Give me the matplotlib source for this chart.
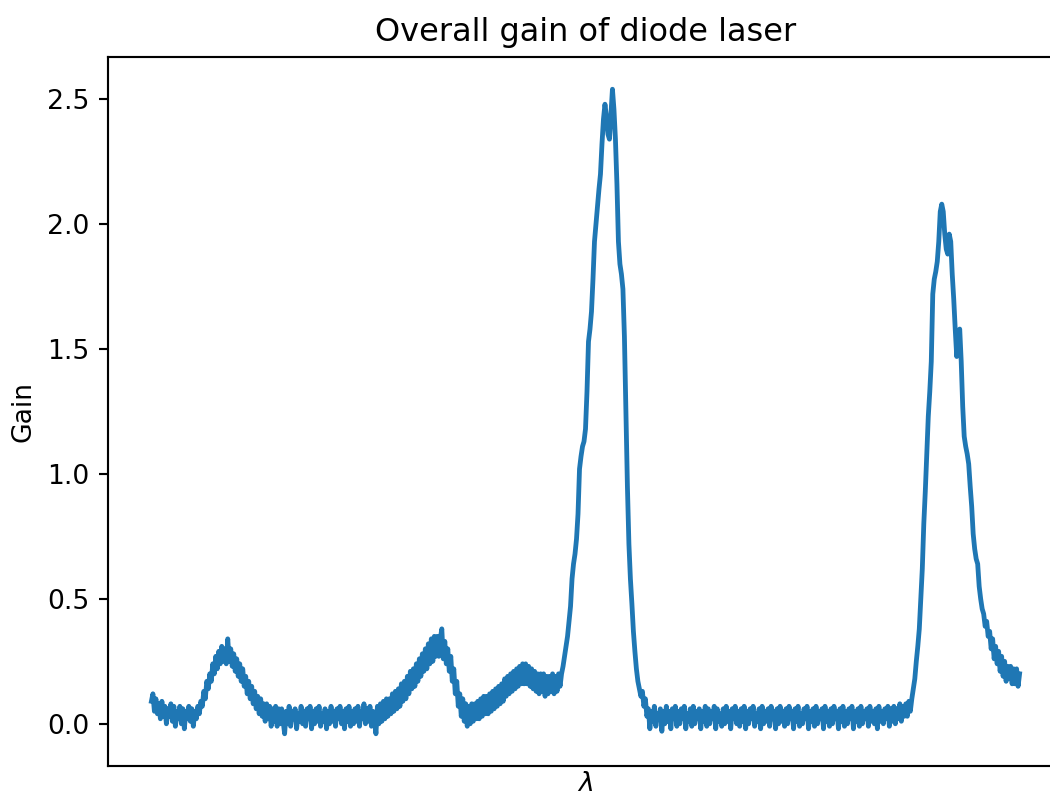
import numpy as np
import matplotlib
matplotlib.use("Agg")
import matplotlib.pyplot as plt

# measured gain, one sample per wavelength step, split by spectral region
gain_edge = [
    0.09, 0.12, 0.05, 0.10, 0.04, 0.08, 0.02, 0.09, 0.03, 0.07, 0.00, 0.06, 0.03, 0.08, 0.01, 0.07,
    -0.01, 0.05, 0.02, 0.07, 0.00, 0.06, -0.02, 0.05, 0.02, 0.07, 0.01, 0.06, -0.01, 0.05, 0.02, 0.07,
]

gain_bump1 = [
    0.04, 0.09, 0.07, 0.13, 0.10, 0.17, 0.14, 0.20, 0.17, 0.24, 0.20, 0.27, 0.22, 0.29, 0.24, 0.31,
    0.25, 0.30, 0.24, 0.34, 0.25, 0.30, 0.23, 0.28, 0.21, 0.26, 0.19, 0.24, 0.17, 0.22, 0.15, 0.19,
    0.12, 0.17, 0.10, 0.15, 0.08, 0.13, 0.06, 0.11, 0.04, 0.10, 0.03, 0.08, 0.01, 0.08, 0.02, 0.07,
    -0.01, 0.06, 0.01, 0.07, -0.01, 0.06, 0.00,
]

gain_flat1 = [
    0.06, 0.01, -0.04, 0.05, 0.00, 0.07, -0.01, 0.05, 0.02, 0.06, -0.02, 0.04, 0.01, 0.07, 0.00, 0.05,
    -0.01, 0.06, 0.02, 0.07, -0.02, 0.05, 0.00, 0.06, 0.01, 0.07, -0.01, 0.04, 0.01, 0.06, -0.02, 0.05,
    0.00, 0.07, 0.01, 0.05, -0.01, 0.06, 0.02, 0.07, 0.00, 0.05, -0.02, 0.06, 0.01, 0.07, -0.01, 0.05,
    0.00, 0.06, 0.01, 0.07, -0.01, 0.05, 0.02, 0.08, 0.00, 0.06, 0.01, 0.07, -0.01, 0.05, 0.02, -0.04,
]

gain_bump2 = [
    0.07, 0.00, 0.08, 0.01, 0.09, 0.02, 0.10, 0.03, 0.10, 0.04, 0.12, 0.05, 0.13, 0.06, 0.14, 0.07,
    0.16, 0.09, 0.17, 0.10, 0.19, 0.12, 0.21, 0.14, 0.22, 0.15, 0.24, 0.17, 0.26, 0.19, 0.28, 0.21,
    0.30, 0.22, 0.32, 0.24, 0.34, 0.25, 0.35, 0.27, 0.35, 0.27, 0.34, 0.38, 0.26, 0.33, 0.24, 0.30,
    0.21, 0.27, 0.17, 0.22, 0.12, 0.17, 0.07, 0.12, 0.03, 0.10, 0.01, 0.08, -0.01, 0.07, 0.00, 0.08,
    0.01, 0.08, 0.02, 0.09, 0.02,
]

gain_bump3 = [
    0.10, 0.03, 0.11, 0.04, 0.11, 0.04, 0.12, 0.05, 0.13, 0.06, 0.14, 0.07, 0.15, 0.08, 0.16, 0.09,
    0.18, 0.11, 0.19, 0.12, 0.20, 0.13, 0.21, 0.14, 0.22, 0.15, 0.23, 0.16, 0.24, 0.16, 0.24, 0.16,
    0.23, 0.15, 0.22, 0.14, 0.21, 0.13, 0.20, 0.12, 0.20, 0.13, 0.20, 0.11, 0.19, 0.12, 0.19, 0.13,
    0.20, 0.12, 0.19, 0.13, 0.20, 0.15,
]

gain_peak1 = [
    0.20, 0.23, 0.27, 0.31, 0.35, 0.41, 0.47, 0.58, 0.64, 0.68, 0.74, 0.84, 1.02, 1.07, 1.11, 1.13,
    1.18, 1.33, 1.53, 1.58, 1.65, 1.78, 1.93, 2.00, 2.07, 2.14, 2.20, 2.32, 2.42, 2.48, 2.43, 2.36,
    2.34, 2.44, 2.54, 2.46, 2.34, 2.16, 1.93, 1.84, 1.80, 1.74, 1.55, 1.25, 0.95, 0.72, 0.58, 0.48,
    0.37, 0.29, 0.22, 0.17, 0.14, 0.11, 0.13, 0.07, 0.10, 0.03, 0.06,
]

gain_flat2 = [
    -0.02, 0.05, 0.01, 0.07, -0.01, 0.04, 0.02, 0.06, -0.03, 0.05, 0.00, 0.07, 0.01, 0.05, -0.02, 0.06, 0.02, 0.07,
    -0.01, 0.05, 0.00, 0.06, 0.02, 0.07, -0.02, 0.04, 0.01, 0.06, -0.01, 0.07, 0.00, 0.05, 0.02, 0.06, -0.02, 0.05,
    0.01, 0.07, -0.01, 0.06, 0.00, 0.05, 0.02, 0.07, -0.02, 0.06, 0.01, 0.04, -0.01, 0.06, 0.00, 0.07, 0.01, 0.05,
    -0.02, 0.06, 0.02, 0.07, 0.00, 0.05, -0.01, 0.06, 0.01, 0.07, -0.02, 0.05, 0.00, 0.06, 0.02, 0.07, -0.01, 0.04,
    0.01, 0.06, -0.02, 0.07, 0.00, 0.05, 0.01, 0.06, -0.01, 0.07, 0.02, 0.05, -0.02, 0.06, 0.00, 0.07, 0.01, 0.05,
    -0.01, 0.06, 0.00, 0.07, 0.02, 0.05, -0.02, 0.06, 0.01, 0.07, -0.01, 0.04, 0.00, 0.06, 0.02, 0.07, -0.02, 0.05,
    0.01, 0.06, -0.01, 0.07, 0.00, 0.05, 0.02, 0.06, -0.02, 0.07, 0.01, 0.05, -0.01, 0.06, 0.00, 0.07, 0.02, 0.05,
    -0.02, 0.06, 0.01, 0.07, -0.01, 0.05, 0.00, 0.06, 0.02, 0.07, -0.02, 0.05, 0.01, 0.06, -0.01, 0.07, 0.00, 0.05,
    0.02, 0.06, -0.01, 0.07, 0.01, 0.05, 0.00, 0.06, -0.02, 0.07, 0.01, 0.05, 0.00, 0.06, 0.02, 0.07, -0.01, 0.06,
    0.01, 0.07, 0.00, 0.06, 0.02, 0.08, 0.01, 0.07, 0.03,
]

gain_peak2 = [
    0.08, 0.03, 0.09, 0.05, 0.10, 0.14, 0.18, 0.25, 0.31, 0.38, 0.50, 0.62, 0.80, 0.93, 1.08, 1.23,
    1.33, 1.45, 1.72, 1.78, 1.81, 1.85, 1.93, 2.05, 2.08, 2.05, 1.96, 1.90, 1.88, 1.96, 1.93, 1.80,
    1.70, 1.58, 1.47, 1.55, 1.58, 1.45, 1.27, 1.15, 1.11, 1.08, 1.04, 0.95, 0.87, 0.76, 0.70, 0.66,
    0.64, 0.55, 0.50, 0.46, 0.44, 0.39, 0.41, 0.35, 0.37, 0.30, 0.34, 0.26, 0.31, 0.24, 0.29, 0.21,
    0.27, 0.19, 0.25, 0.17, 0.23, 0.18, 0.23, 0.16, 0.22, 0.16, 0.22, 0.15, 0.20,
]

gain = np.array(gain_edge + gain_bump1 + gain_flat1 + gain_bump2 + gain_bump3
                + gain_peak1 + gain_flat2 + gain_peak2)
wl = np.arange(len(gain))

dpi = 192
fig = plt.figure(figsize=(1050 / dpi, 797 / dpi), dpi=dpi)
ax = fig.add_axes([108 / 1050, 31 / 797, 955 / 1050, 709 / 797])

ax.plot(wl, gain, color="#1f77b4", linewidth=1.8)
ax.set_xticks([])
ax.set_xlabel(r"$\lambda$", labelpad=2)
ax.set_ylabel("Gain")
ax.set_title("Overall gain of diode laser")

fig.savefig("out.png", dpi=dpi)
